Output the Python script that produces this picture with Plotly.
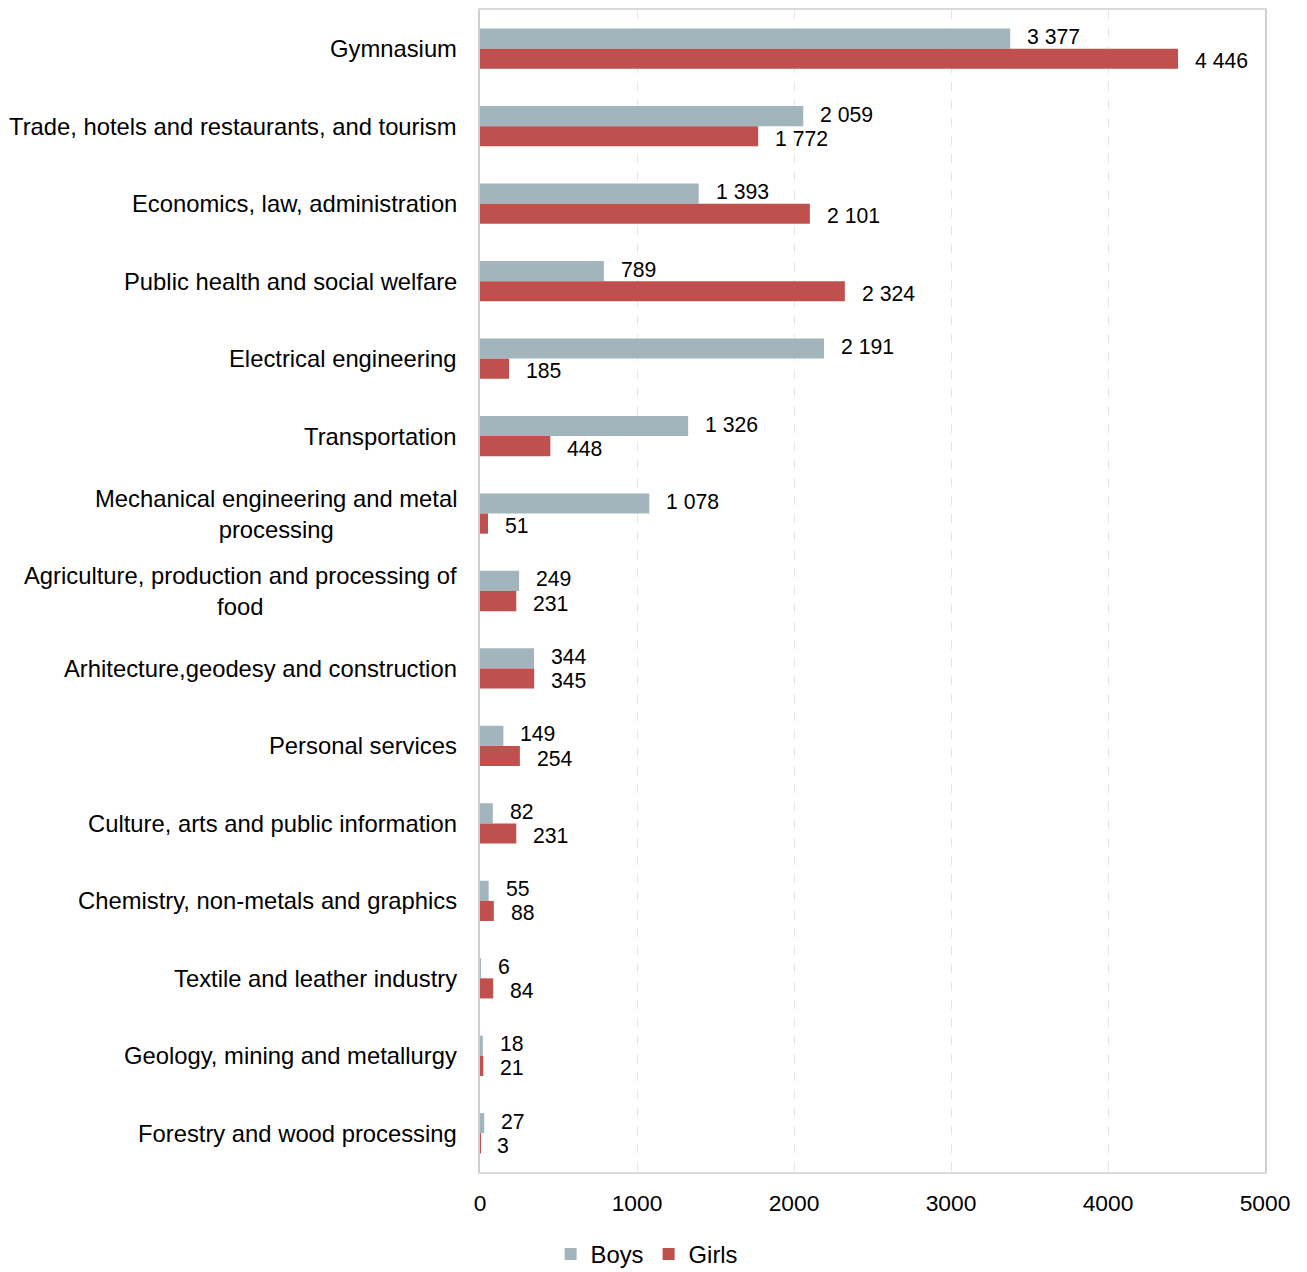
import plotly.graph_objects as go

categories = [
    "Gymnasium",
    "Trade, hotels and restaurants, and tourism",
    "Economics, law, administration",
    "Public health and social welfare",
    "Electrical engineering",
    "Transportation",
    "Mechanical engineering and metal<br>processing",
    "Agriculture, production and processing of<br>food",
    "Arhitecture,geodesy and construction",
    "Personal services",
    "Culture, arts and public information",
    "Chemistry, non-metals and graphics",
    "Textile and leather industry",
    "Geology, mining and metallurgy",
    "Forestry and wood processing",
]
boys = [3377, 2059, 1393, 789, 2191, 1326, 1078, 249, 344, 149, 82, 55, 6, 18, 27]
girls = [4446, 1772, 2101, 2324, 185, 448, 51, 231, 345, 254, 231, 88, 84, 21, 3]
x_ticks = [0, 1000, 2000, 3000, 4000, 5000]

BOYS_COLOR = "#A2B5BC"
GIRLS_COLOR = "#C0504D"
FONT = "Liberation Sans, Arial, sans-serif"
CAT_FS = 23.8
TICK_FS = 22.8
LBL_FS = 21.2

def fmt(v):
    return f"{v:,}".replace(",", " ")

fig = go.Figure()
fig.add_trace(go.Bar(y=categories, x=boys, name="Boys", orientation="h",
                     marker=dict(color=BOYS_COLOR, line=dict(width=0))))
fig.add_trace(go.Bar(y=categories, x=girls, name="Girls", orientation="h",
                     marker=dict(color=GIRLS_COLOR, line=dict(width=0))))

bargap = 0.48
half = (1 - bargap) / 4
annotations = []
for i, (b, g) in enumerate(zip(boys, girls)):
    for v, off, ys in ((b, -half, 2), (g, half, -2)):
        annotations.append(dict(
            x=v, y=i + off, xref="x", yref="y", text=fmt(v),
            showarrow=False, xanchor="left", yanchor="middle", xshift=16, yshift=ys,
            borderpad=0,
            font=dict(size=LBL_FS, color="#000000", family=FONT)))

# category labels (centred multi-line, right-anchored like the reference)
for cat in categories:
    annotations.append(dict(
        x=0, y=cat, xref="paper", yref="y", text=cat, showarrow=False,
        xanchor="right", yanchor="middle", align="center", xshift=-22,
        borderpad=0, font=dict(size=CAT_FS, color="#000000", family=FONT)))

fig.update_layout(
    width=1299, height=1264,
    margin=dict(l=472, r=42, t=2, b=100, autoexpand=False),
    paper_bgcolor="white", plot_bgcolor="white",
    font=dict(family=FONT, size=CAT_FS, color="#000000"),
    barmode="group", bargap=bargap, bargroupgap=0,
    showlegend=True,
    legend=dict(orientation="h", xref="container", yref="paper",
                x=0.492, xanchor="center", y=-0.0705, yanchor="middle",
                font=dict(size=CAT_FS), itemwidth=30, traceorder="normal"),
    annotations=annotations,
)
fig.update_xaxes(range=[0, 5000], tickvals=x_ticks, ticktext=[str(t) for t in x_ticks],
                 automargin=False,
                 showgrid=True, gridcolor="#E4E4E4", griddash="dash", gridwidth=1,
                 zeroline=False, showline=True, linecolor="#DADADA", linewidth=1.5,
                 mirror=True, ticks="", ticklabelstandoff=10,
                 tickfont=dict(size=TICK_FS, color="#000000"))
fig.update_yaxes(autorange="reversed", automargin=False, showgrid=False, zeroline=False,
                 showline=True, linecolor="#CFCFCF", linewidth=1.5, mirror=True,
                 ticks="", showticklabels=False)

fig.write_html("out.html")
